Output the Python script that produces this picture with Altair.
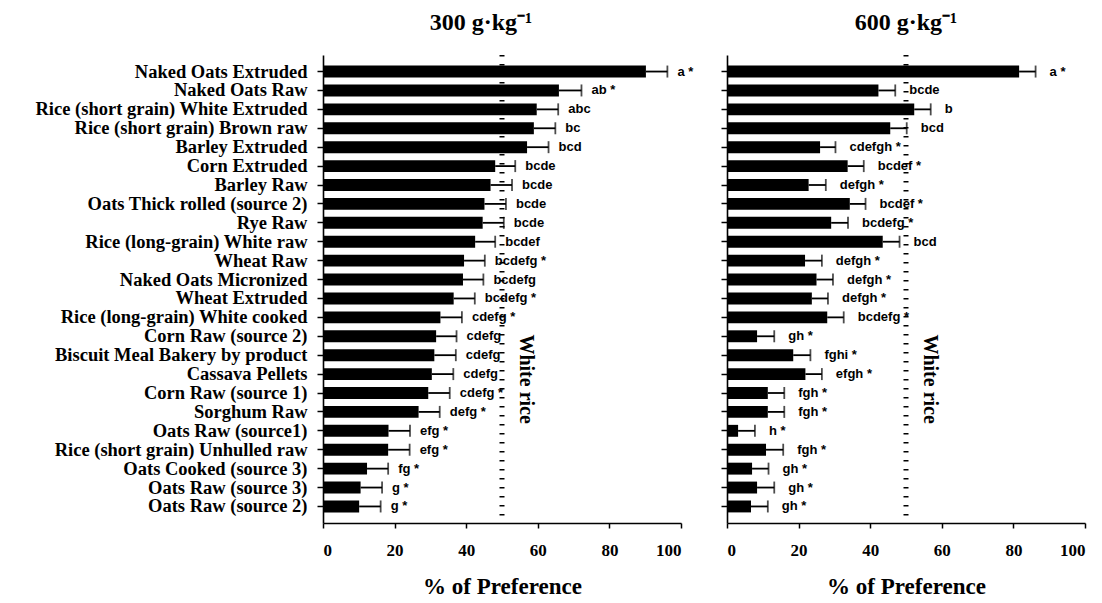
import altair as alt
import pandas as pd

categories = [
    "Naked Oats Extruded", "Naked Oats Raw", "Rice (short grain) White Extruded",
    "Rice (short grain) Brown raw", "Barley Extruded", "Corn Extruded", "Barley Raw",
    "Oats Thick rolled (source 2)", "Rye Raw", "Rice (long-grain) White raw", "Wheat Raw",
    "Naked Oats Micronized", "Wheat Extruded", "Rice (long-grain) White cooked",
    "Corn Raw (source 2)", "Biscuit Meal Bakery by product", "Cassava Pellets",
    "Corn Raw (source 1)", "Sorghum Raw", "Oats Raw (source1)",
    "Rice (short grain) Unhulled raw", "Oats Cooked (source 3)", "Oats Raw (source 3)",
    "Oats Raw (source 2)",
]

pref_300 = [90.2, 65.9, 59.7, 58.9, 57.0, 48.1, 46.8, 45.1, 44.6, 42.5, 39.4, 39.1,
            36.5, 32.8, 31.6, 31.1, 30.4, 29.4, 26.7, 18.3, 18.2, 12.3, 10.5, 10.1]
err_300 = [6.0, 6.3, 6.0, 6.0, 6.0, 5.6, 6.0, 6.0, 5.9, 5.6, 5.8, 5.7,
           5.9, 6.0, 5.7, 6.0, 6.0, 6.0, 5.9, 6.0, 6.0, 5.9, 6.0, 6.0]
letters_300 = ["a *", "ab *", "abc", "bc", "bcd", "bcde", "bcde", "bcde", "bcde", "bcdef",
               "bcdefg *", "bcdefg", "bcdefg *", "cdefg *", "cdefg", "cdefg", "cdefg",
               "cdefg *", "defg *", "efg *", "efg *", "fg *", "g *", "g *"]

pref_600 = [81.6, 42.3, 52.3, 45.6, 26.0, 33.7, 22.8, 34.3, 29.1, 43.5, 21.8, 25.0,
            23.7, 28.0, 8.4, 18.5, 21.9, 11.4, 11.4, 3.1, 10.9, 7.0, 8.4, 6.7]
err_600 = [4.6, 4.7, 4.6, 4.6, 4.3, 4.5, 4.8, 4.4, 4.7, 4.7, 4.7, 4.6,
           4.5, 4.6, 4.8, 4.8, 4.6, 4.6, 4.6, 4.7, 4.8, 4.6, 4.8, 4.7]
letters_600 = ["a *", "bcde", "b", "bcd", "cdefgh *", "bcdef *", "defgh  *", "bcdef *",
               "bcdefg *", "bcd", "defgh *", "defgh *", "defgh *", "bcdefg *", "gh *",
               "fghi *", "efgh  *", "fgh *", "fgh *", "h  *", "fgh *", "gh *", "gh *", "gh *"]

titles = ["300 g·kg⁻¹", "600 g·kg⁻¹"]
title_shift = [-21, 0]
letter_gap = [10, 14]
white_rice_level = [50]
white_rice_label = "White rice"
white_rice_label_x = 56.6
white_rice_label_row = "Cassava Pellets"

SERIF = "Liberation Serif"
SANS = "Liberation Sans"


def panel(values, errs, letters, title, shift, gap, show_labels):
    df = pd.DataFrame({
        "item": categories,
        "pref": values,
        "err": errs,
        "hi": [v + e for v, e in zip(values, errs)],
        "letters": letters,
    })
    ref = pd.DataFrame({"ref": white_rice_level})
    ann = pd.DataFrame({"x": [white_rice_label_x], "item": [white_rice_label_row],
                        "t": [white_rice_label]})

    yscale = alt.Scale(domain=categories, paddingInner=0.37, paddingOuter=0.56)
    y_axis = alt.Axis(
        title=None, labels=show_labels, labelFont=SERIF, labelFontSize=18.5,
        labelFontWeight="bold", labelColor="black", labelLimit=600, labelPadding=10,
        ticks=True, tickSize=6, tickColor="black", tickWidth=1.5,
        domainColor="black", domainWidth=1.6, grid=False,
    )
    x_axis = alt.Axis(
        title="% of Preference", values=[0, 20, 40, 60, 80, 100], labelFont=SERIF,
        labelFontSize=17, labelFontWeight="bold", labelColor="black", labelPadding=14,
        tickSize=5, tickColor="black", tickWidth=1.5, domainColor="black",
        domainWidth=1.6, grid=False, titleFont=SERIF, titleFontSize=23,
        titleFontWeight="bold", titleColor="black", titlePadding=17,
    )
    xscale = alt.Scale(domain=[0, 100], nice=False)

    base = alt.Chart(df)
    rule_ref = alt.Chart(ref).mark_rule(
        color="black", strokeWidth=5, strokeDash=[1.5, 7.5]
    ).encode(x=alt.X("ref:Q", scale=xscale, axis=x_axis))
    bars = base.mark_bar(color="black").encode(
        x=alt.X("pref:Q", scale=xscale, axis=x_axis),
        y=alt.Y("item:N", scale=yscale, axis=y_axis, sort=None),
    )
    ebar = base.mark_rule(color="black", strokeWidth=1.8).encode(
        x="pref:Q", x2="hi:Q", y=alt.Y("item:N", sort=None)
    )
    cap = base.mark_tick(color="black", thickness=1.8, size=12, orient="vertical").encode(
        x="hi:Q", y=alt.Y("item:N", sort=None)
    )
    txt = base.mark_text(
        align="left", baseline="middle", dx=gap, font=SANS, fontSize=13,
        fontWeight="bold", color="black"
    ).encode(x="hi:Q", y=alt.Y("item:N", sort=None), text="letters:N")
    note = alt.Chart(ann).mark_text(
        angle=90, align="center", baseline="middle", font=SERIF, fontSize=20,
        fontWeight="bold", color="black"
    ).encode(x="x:Q", y=alt.Y("item:N", sort=None), yOffset=alt.value(11), text="t:N")

    return alt.layer(rule_ref, bars, ebar, cap, txt, note).properties(
        width=358, height=468,
        title=alt.TitleParams(text=title, font=SERIF, fontSize=24, fontWeight="bold",
                              color="black", anchor="middle", dx=shift, offset=18),
    )


left = panel(pref_300, err_300, letters_300, titles[0], title_shift[0], letter_gap[0], True)
right = panel(pref_600, err_600, letters_600, titles[1], title_shift[1], letter_gap[1], False)

chart = alt.hconcat(left, right, spacing=46, bounds="flush").configure_view(
    stroke=None
).properties(background="white", padding={"left": 34, "top": 10, "right": 5, "bottom": 0})

chart.save("out.html", embed_options={"renderer": "svg", "actions": False})
